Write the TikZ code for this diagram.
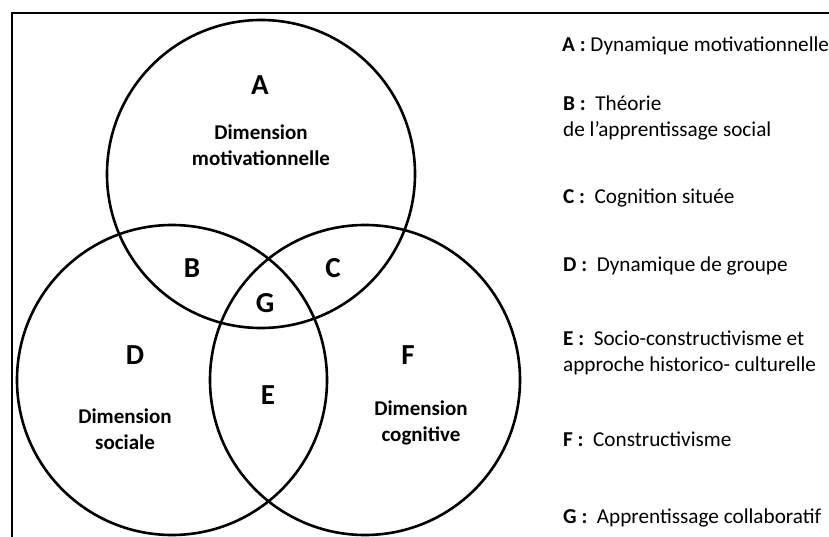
\documentclass[tikz,border=0pt]{standalone}
\usepackage{fontspec}
\setmainfont{Carlito}
\begin{document}
\begin{tikzpicture}[x=1pt,y=-1pt,
  ring/.style={draw=black,line width=2.6pt},
  big/.style={font=\fontsize{29}{30}\selectfont\bfseries},
  dim/.style={font=\fontsize{21}{26}\selectfont\bfseries,align=center},
  leg/.style={anchor=west,font=\fontsize{21.2}{26}\selectfont,align=left,inner sep=0pt}]
\useasboundingbox (0,0) rectangle (829,537);
\draw[line width=1.6pt] (829,13) -- (12,13) -- (12,537);
\draw[ring] (261,174) circle (154);
\draw[ring] (172,380) circle (155);
\draw[ring] (365,380) circle (155);
\node[big] (A) at (260,85) {A};
\node[dim] (dA) at (261,145) {Dimension\\motivationnelle};
\node[big] (B) at (192,268) {B};
\node[big] (C) at (333,268) {C};
\node[big] (G) at (265,303) {G};
\node[big] (D) at (135,355) {D};
\node[big] (E) at (268,395) {E};
\node[big] (F) at (408,355) {F};
\node[dim] (dD) at (125,429) {Dimension\\sociale};
\node[dim] (dF) at (421,423) {Dimension\\cognitive};
\node[leg] (lA) at (562,46) {\textbf{A :} Dynamique motivationnelle};
\node[leg] (lB) at (563,118) {\textbf{B :}\ \ Théorie\\de l’apprentissage social};
\node[leg] (lC) at (563,198) {\textbf{C :}\ \ Cognition située};
\node[leg] (lD) at (563,266) {\textbf{D :}\ \ Dynamique de groupe};
\node[leg] (lE) at (563,353) {\textbf{E :}\ \ Socio-constructivisme et\\approche historico- culturelle};
\node[leg] (lF) at (563,439) {\textbf{F :}\ \ Constructivisme};
\node[leg] (lG) at (563,518) {\textbf{G :}\ \ Apprentissage collaboratif};
\end{tikzpicture}
\end{document}
